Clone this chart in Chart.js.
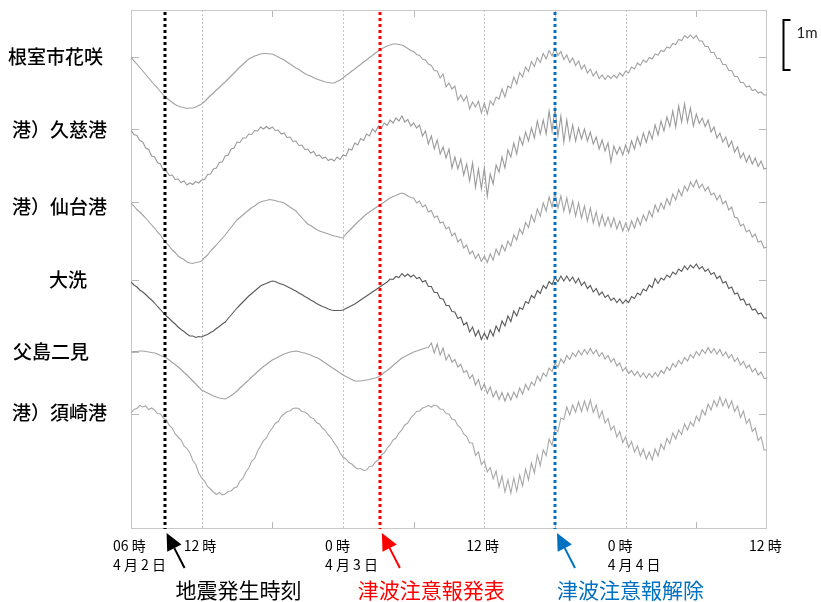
<!DOCTYPE html>
<html><head><meta charset="utf-8">
<script src="https://cdn.jsdelivr.net/npm/chart.js@4.4.1/dist/chart.umd.min.js"></script>
<style>html,body{margin:0;padding:0;background:#fff;}#wrap{width:821px;height:602px;}</style>
</head><body><div id="wrap"><canvas id="c" width="821" height="602"></canvas></div>
<script>
// ---- data (sea level, cm, every 15 minutes from 06:00 2 April) ----
const STEP_H = 0.25;
const stationNames = ['根室市花咲','港）久慈港','港）仙台港','大洗','父島二見','港）須崎港'];
const nemuro = [0,-8,-14,-21, -28,-35,-42,-49, -56,-62,-69,-76, -82,-86,-91,-95, -98,-100,-101,-103, -102,-102,-100,-97,
 -94,-89,-83,-77, -72,-66,-61,-55, -50,-44,-38,-32, -26,-20,-15,-9, -4,-1,2,4, 6,7,7,6,
 6,3,0,-3, -6,-10,-14,-18, -22,-25,-29,-33, -36,-38,-41,-44, -46,-48,-50,-51, -52,-52,-49,-46,
 -42,-37,-33,-28, -24,-19,-15,-10, -6,-1,3,8, 12,16,19,22, 24,26,26,25, 24,21,17,13,
 11,5,3,-4, -6,-14,-17,-27, -28,-42,-34,-60, -52,-64,-58,-86, -76,-88,-78,-104, -90,-100,-88,-112,
 -92,-114,-88,-96, -80,-84,-64,-80, -58,-62,-40,-54, -31,-40,-20,-29, -9,-19,-1,-11, 7,-4,13,2,
 18,3,11,-5, 4,-11,-2,-17, -8,-24,-16,-32, -24,-38,-29,-43, -36,-45,-37,-43, -36,-42,-32,-38,
 -28,-32,-20,-24, -12,-17,-6,-11, -1,-4,6,4, 13,11,20,18, 27,25,35,33, 43,38,44,37,
 43,32,32,21, 21,9,9,-3, -3,-15,-15,-27, -27,-39,-39,-51, -51,-60,-58,-67, -65,-72,-70,-76, -76];
const kuji = [-2,-11,-13,-23, -26,-38,-41,-54, -56,-67,-70,-83, -84,-93,-92,-101, -100,-107,-104,-112, -108,-111,-105,-108,
 -102,-101,-91,-90, -80,-78,-67,-66, -54,-52,-40,-38, -26,-27,-18,-18, -10,-11,-3,-4, 4,0,5,0,
 4,-3,-2,-10, -8,-17,-16,-25, -24,-33,-32,-41, -40,-48,-45,-54, -52,-59,-56,-63, -60,-64,-56,-61,
 -52,-54,-40,-42, -28,-32,-19,-23, -10,-14,0,-6, 6,1,12,7, 18,12,22,16, 26,14,19,6,
 12,2,8,-14, -4,-30,-14,-40, -22,-50,-36,-58, -40,-78,-56,-80, -60,-92,-70,-104, -68,-116,-80,-120,
 -78,-134,-90,-110, -72,-86,-56,-78, -42,-56,-28,-50, -16,-32,-6,-24, 2,-18,16,-10, 18,-10,36,-4,
 42,-14,26,-26, 18,-22,8,-24, 2,-20,0,-24, -6,-30,-16,-40, -22,-44,-28,-66, -34,-50,-36,-52,
 -32,-48,-24,-40, -16,-33,-8,-27, -4,-20,8,-12, 16,-4,24,5, 36,4,46,14, 50,14,42,6,
 30,11,22,5, 18,-6,4,-18, -8,-26,-16,-36, -24,-46,-36,-58, -48,-66,-53,-70, -58,-75,-64,-80, -78];
const sendai = [-2,-8,-15,-20, -26,-32,-39,-46, -52,-60,-66,-75, -82,-88,-96,-101, -108,-112,-115,-120, -122,-123,-121,-120,
 -118,-111,-106,-98, -92,-86,-79,-73, -66,-58,-51,-43, -36,-31,-26,-21, -16,-11,-8,-3, 0,2,3,5,
 4,3,1,0, -2,-6,-10,-14, -18,-25,-31,-38, -44,-47,-51,-55, -58,-60,-62,-64, -66,-68,-69,-71,
 -72,-64,-58,-52, -46,-40,-35,-29, -24,-20,-16,-12, -8,-4,0,4, 8,11,13,16, 18,16,12,9,
 8,-2,2,-10, -6,-20,-17,-31, -28,-42,-40,-54, -50,-68,-62,-80, -74,-92,-86,-104, -98,-113,-104,-119,
 -108,-121,-104,-116, -94,-106,-86,-98, -78,-88,-66,-76, -54,-64,-41,-51, -26,-40,-14,-28, -2,-18,10,-10,
 18,-12,12,-18, 8,-22,2,-28, -2,-32,-8,-38, -12,-42,-20,-48, -26,-48,-30,-50, -32,-54,-38,-58,
 -42,-58,-38,-52, -32,-46,-26,-38, -18,-30,-6,-20, -2,-14,7,-6, 16,4,25,12, 32,22,40,30,
 44,28,36,22, 30,14,18,4, 14,-4,2,-16, -10,-30,-32,-48, -44,-60,-56,-70, -64,-80,-78,-92, -90];
const oarai = [-4,-10,-14,-20, -24,-29,-35,-40, -46,-53,-59,-66, -72,-77,-83,-88, -94,-99,-103,-108, -112,-112,-115,-113,
 -114,-111,-109,-105, -102,-97,-93,-88, -84,-77,-70,-63, -56,-50,-44,-38, -32,-27,-22,-17, -12,-9,-7,-4,
 -2,-3,-6,-8, -10,-13,-16,-19, -22,-26,-29,-33, -36,-40,-43,-47, -50,-53,-55,-58, -60,-61,-61,-61,
 -60,-57,-54,-51, -48,-44,-40,-36, -32,-28,-24,-20, -16,-12,-8,-4, 2,1,7,5, 13,7,12,6,
 10,3,5,-4, -1,-13,-13,-25, -25,-37,-38,-51, -51,-63,-64,-77, -74,-90,-85,-104, -94,-112,-101,-119,
 -106,-118,-100,-112, -92,-103,-82,-92, -72,-83,-62,-72, -55,-59,-43,-47, -31,-36,-21,-27, -11,-17,-3,-9,
 5,-3,8,-2, 8,-2,6,-6, 3,-11,-4,-17, -11,-24,-17,-30, -24,-35,-30,-41, -36,-45,-38,-47,
 -40,-45,-33,-37, -26,-30,-18,-22, -10,-15,3,-7, 4,0,10,5, 16,11,22,17, 28,21,30,24,
 32,22,27,17, 22,11,15,3, 8,-6,-3,-17, -14,-28,-26,-40, -38,-50,-48,-60, -58,-68,-66,-76, -76];
const chichijima = [0,1,1,2, 2,1,0,-1, -2,-4,-7,-9, -12,-16,-21,-25, -30,-35,-41,-46, -52,-58,-64,-70,
 -76,-79,-82,-85, -88,-90,-92,-93, -94,-91,-87,-83, -78,-72,-67,-61, -56,-50,-45,-39, -34,-29,-25,-20,
 -16,-13,-10,-7, -4,-2,0,1, 2,1,-1,-2, -4,-6,-9,-11, -14,-18,-22,-26, -30,-34,-38,-42,
 -46,-49,-52,-55, -58,-58,-58,-57, -56,-55,-53,-52, -50,-46,-41,-37, -32,-27,-22,-17, -12,-9,-6,-3,
 0,2,4,6, 8,9,18,-2, 16,-6,8,-16, -5,-20,-15,-30, -25,-41,-37,-53, -46,-66,-55,-76,
 -64,-83,-70,-90, -78,-95,-81,-98, -82,-96,-80,-91, -72,-84,-65,-76, -60,-67,-48,-58, -42,-49,-32,-39,
 -22,-30,-14,-22, -7,-15,-2,-9, 3,-6,5,-4, 7,-4,4,-9, -1,-14,-7,-20, -13,-28,-22,-38,
 -31,-43,-37,-47, -39,-50,-42,-52, -43,-51,-41,-49, -37,-43,-30,-37, -23,-30,-17,-24, -11,-18,-5,-12,
 1,-7,5,-3, 9,-2,7,-4, 5,-8,0,-12, -5,-19,-12,-26, -19,-32,-26,-40, -33,-46,-40,-53, -52];
const susaki = [2,9,11,17, 14,16,9,12, 8,1,0,-8, -12,-23,-28,-40, -46,-52,-64,-69, -78,-93,-101,-118,
 -128,-134,-145,-150, -156,-161,-157,-162, -160,-155,-154,-148, -146,-134,-129,-116, -108,-94,-89,-74, -64,-53,-48,-36,
 -28,-19,-15,-5, 0,5,6,11, 12,11,5,4, 0,-7,-9,-17, -20,-28,-33,-42, -48,-58,-66,-78,
 -86,-90,-97,-100, -106,-110,-109,-113, -112,-105,-104,-96, -92,-82,-78,-68, -62,-52,-48,-38, -32,-22,-18,-8,
 -2,5,6,12, 14,17,14,18, 16,10,9,1, 0,-10,-12,-23, -28,-40,-45,-58, -58,-83,-76,-101,
 -94,-116,-107,-130, -114,-146,-124,-156, -132,-158,-128,-154, -122,-144,-110,-132, -98,-118,-82,-103, -72,-83,-50,-63,
 -30,-35,-8,-11, 14,-2,18,4, 24,5,26,7, 28,3,18,-8, 6,-18,-9,-32, -24,-46,-35,-57,
 -46,-67,-55,-76, -64,-84,-70,-90, -76,-92,-70,-84, -60,-71,-49,-59, -38,-50,-32,-41, -20,-32,-16,-24,
 -4,-14,8,-2, 20,8,27,15, 34,16,30,12, 26,5,16,-7, 6,-19,-10,-35, -28,-53,-46,-72, -72];

// x axis tick labels (hours after 06:00 2 April)
const labelHours = [0, 6, 18, 30, 42, 54];
const labelTexts = [['06 時','4 月 2 日'], ['12 時'], ['0 時','4 月 3 日'], ['12 時'], ['0 時','4 月 4 日'], ['12 時']];
// events (hours after 06:00 2 April)
const eventHours = [2.85, 21.13, 36.0];
const eventNames = ['地震発生時刻', '津波注意報発表', '津波注意報解除'];

// ---- layout / style ----
const series = [nemuro, kuji, sendai, oarai, chichijima, susaki];
const traceOffsets = [-94, -238, -384, -540, -684, -808];   // stacking offset (cm) of each trace
const traceColors = ['#a2a2a2','#9a9a9a','#a2a2a2','#5a5a5a','#a2a2a2','#a8a8a8'];
const nameX = [8, 12, 12, 49, 13, 12];
const nameDy = [0, 1, 5, 0, 0, -1];
const eventColors = ['#000000', '#ff0000', '#0070c0'];
const eventTextDx = [11, -22, 2];
const gridHours = [6, 18, 30, 42];
const minorHours = [12, 24, 36, 48];
const JP = '"Noto Sans CJK JP", "Noto Sans", sans-serif';

const datasets = series.map((vals, k) => ({
  label: stationNames[k],
  data: vals.map((v, i) => ({x: i * STEP_H, y: traceOffsets[k] + v})),
  borderColor: traceColors[k], borderWidth: 1.1, pointRadius: 0, tension: 0, fill: false
}));

const deco = {
  id: 'deco',
  beforeDatasetsDraw(chart) {
    const {ctx, chartArea: a, scales: {x, y}} = chart;
    ctx.save();
    ctx.strokeStyle = '#c4c4c4'; ctx.lineWidth = 1;
    ctx.setLineDash([2, 2]);
    gridHours.forEach(h => { const px = Math.round(x.getPixelForValue(h)) + 0.5;
      ctx.beginPath(); ctx.moveTo(px, a.top); ctx.lineTo(px, a.bottom); ctx.stroke(); });
    ctx.setLineDash([]);
    ctx.strokeStyle = '#b8b8b8';
    minorHours.forEach(h => { const px = Math.round(x.getPixelForValue(h)) + 0.5;
      ctx.beginPath(); ctx.moveTo(px, a.top); ctx.lineTo(px, a.top + 7);
      ctx.moveTo(px, a.bottom); ctx.lineTo(px, a.bottom - 7); ctx.stroke(); });
    traceOffsets.forEach(o => { const py = Math.round(y.getPixelForValue(o)) + 0.5;
      ctx.beginPath(); ctx.moveTo(a.left, py); ctx.lineTo(a.left + 8, py);
      ctx.moveTo(a.right - 8, py); ctx.lineTo(a.right, py); ctx.stroke(); });
    ctx.strokeStyle = '#c8c8c8';
    ctx.strokeRect(Math.round(a.left) + 0.5, Math.round(a.top) + 0.5, Math.round(a.width) - 1, Math.round(a.height) - 1);
    ctx.restore();
  },
  afterDatasetsDraw(chart) {
    const {ctx, chartArea: a, scales: {x}} = chart;
    ctx.save();
    ctx.lineWidth = 3; ctx.setLineDash([3, 3]);
    eventHours.forEach((h, i) => { const px = Math.round(x.getPixelForValue(h));
      ctx.strokeStyle = eventColors[i];
      ctx.beginPath(); ctx.moveTo(px, a.top + 2); ctx.lineTo(px, a.bottom); ctx.stroke(); });
    ctx.restore();
  },
  afterDraw(chart) {
    const {ctx, chartArea: a, scales: {x, y}} = chart;
    ctx.save();
    eventHours.forEach((h, i) => {
      const px = x.getPixelForValue(h);
      const tipX = px + 2, tipY = a.bottom + 4, tailX = px + 20, tailY = a.bottom + 39;
      const ang = Math.atan2(tipY - tailY, tipX - tailX);
      const hl = 17, hw = 8;
      const bx = tipX - hl * Math.cos(ang), by = tipY - hl * Math.sin(ang);
      ctx.strokeStyle = eventColors[i]; ctx.fillStyle = eventColors[i]; ctx.lineWidth = 2;
      ctx.beginPath(); ctx.moveTo(tailX, tailY); ctx.lineTo(bx, by); ctx.stroke();
      ctx.beginPath(); ctx.moveTo(tipX, tipY);
      ctx.lineTo(bx + hw * Math.sin(ang), by - hw * Math.cos(ang));
      ctx.lineTo(bx - hw * Math.sin(ang), by + hw * Math.cos(ang));
      ctx.closePath(); ctx.fill();
      ctx.font = '21px ' + JP; ctx.textAlign = 'left'; ctx.textBaseline = 'middle';
      ctx.fillText(eventNames[i], px + eventTextDx[i], a.bottom + 61);
    });
    ctx.fillStyle = '#000'; ctx.font = '500 19px ' + JP; ctx.textAlign = 'left'; ctx.textBaseline = 'middle';
    stationNames.forEach((n, k) => ctx.fillText(n, nameX[k], y.getPixelForValue(traceOffsets[k]) + nameDy[k]));
    const sTop = y.getPixelForValue(-20), sBot = y.getPixelForValue(-120);
    const sx = a.right + 16.5;
    ctx.strokeStyle = '#000'; ctx.lineWidth = 2;
    ctx.beginPath(); ctx.moveTo(sx + 7, sTop); ctx.lineTo(sx, sTop); ctx.lineTo(sx, sBot); ctx.lineTo(sx + 7, sBot); ctx.stroke();
    ctx.font = '15px Lato, sans-serif'; ctx.fillStyle = '#222';
    ctx.fillText('1m', sx + 13, sTop + 13);
    ctx.restore();
  }
};

new Chart(document.getElementById('c'), {
  type: 'line',
  data: {datasets},
  options: {
    responsive: false, animation: false, devicePixelRatio: 1,
    layout: {padding: {left: 131, right: 54, top: 10, bottom: 0}},
    plugins: {legend: {display: false}, tooltip: {enabled: false}},
    scales: {
      x: {
        type: 'linear', min: 0, max: 54,
        grid: {display: false, drawTicks: false}, border: {display: false},
        afterBuildTicks: s => { s.ticks = [0,6,12,18,24,30,36,42,48,54].map(v => ({value: v})); },
        afterFit: s => { s.height = 73; },
        ticks: {
          autoSkip: false, maxRotation: 0, minRotation: 0, align: 'start', labelOffset: -18, padding: 8,
          color: '#000', font: {family: JP, size: 14, lineHeight: 1.3},
          callback: v => { const i = labelHours.indexOf(v); return i >= 0 ? labelTexts[i] : ''; }
        }
      },
      y: {type: 'linear', min: -1038, max: 0, display: false}
    }
  },
  plugins: [deco]
});
</script></body></html>
